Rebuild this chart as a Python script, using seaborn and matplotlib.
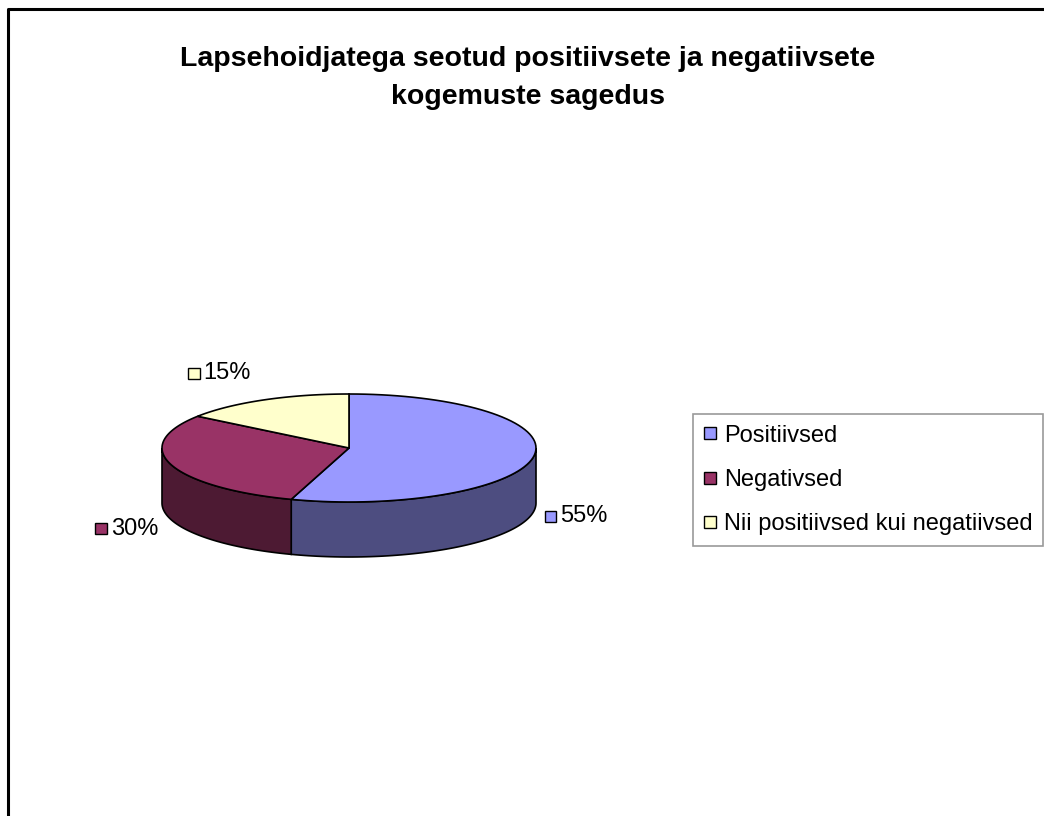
import numpy as np
import matplotlib.pyplot as plt
import seaborn as sns
from matplotlib.patches import Polygon, Rectangle
from matplotlib.lines import Line2D
from matplotlib.offsetbox import AnnotationBbox, DrawingArea, HPacker, TextArea

# data
categories = ["Positiivsed", "Negativsed", "Nii positiivsed kui negatiivsed"]
shares = [55, 30, 15]
value_labels = ["55%", "30%", "15%"]
top_colors = ["#9999FF", "#993366", "#FFFFCC"]
side_colors = ["#4D4D80", "#4D1A33", "#80806A"]

sns.set_theme(style="white")
plt.rcParams["font.family"] = ["Liberation Sans", "DejaVu Sans"]
plt.rcParams["text.color"] = "black"

fig = plt.figure(figsize=(10.44, 8.16), dpi=100)
ax = fig.add_axes([0, 0, 1, 1])
ax.set_xlim(0, 1044)
ax.set_ylim(816, 0)
ax.axis("off")

# pie geometry (pixels)
cx, cy, rx, ry, depth = 349, 448, 187, 54, 55


def arc(t0, t1, dz=0, n=80):
    t = np.linspace(t0, t1, n)
    return np.column_stack([cx + rx * np.cos(t), cy - ry * np.sin(t) + dz])


fracs = np.array(shares) / sum(shares)
starts = np.pi / 2 - 2 * np.pi * np.concatenate([[0], np.cumsum(fracs)[:-1]])
ends = starts - 2 * np.pi * fracs

# side walls (front half only)
for s, e, col in zip(starts, ends, side_colors):
    a, b = max(e, -np.pi), min(s, 0)
    if a >= b:
        continue
    pts = np.vstack([arc(b, a), arc(a, b, depth)])
    ax.add_patch(Polygon(pts, closed=True, facecolor=col, edgecolor="black", lw=1.2, zorder=2))

# top faces
for s, e, col in zip(starts, ends, top_colors):
    pts = np.vstack([[cx, cy], arc(s, e)])
    ax.add_patch(Polygon(pts, closed=True, facecolor=col, edgecolor="black", lw=1.2, zorder=3))

# data labels with colour key squares
for s, e, col, txt in zip(starts, ends, top_colors, value_labels):
    m = (s + e) / 2
    right = np.cos(m) > 0
    x = cx + rx * np.cos(m) + (11 if right else -13)
    y = cy - ry * np.sin(m) * 1.55 + (depth if np.sin(m) < 0 else 0)
    da = DrawingArea(8, 8, 0, 0)
    da.add_artist(Rectangle((0, 0), 8, 8, facecolor=col, edgecolor="black", lw=1))
    ta = TextArea(txt, textprops=dict(fontsize=17, color="black"))
    box = HPacker(children=[da, ta], align="center", pad=0, sep=3)
    ab = AnnotationBbox(box, (x, y), xycoords="data", frameon=False,
                        box_alignment=(0 if right else 1, 0.5), pad=0)
    ax.add_artist(ab)

# legend
handles = [Line2D([], [], marker="s", linestyle="none", markersize=8.5,
                  markerfacecolor=c, markeredgecolor="black", markeredgewidth=1)
           for c in top_colors]
leg = ax.legend(handles, categories, loc="upper left",
                bbox_to_anchor=(693 / 1044, 1 - 414 / 816), bbox_transform=fig.transFigure,
                fontsize=17, frameon=True, fancybox=False, borderaxespad=0,
                handlelength=0.55, handletextpad=0.3, labelspacing=0.95,
                borderpad=0.45, labelcolor="black")
leg.get_frame().set_edgecolor("#808080")
leg.get_frame().set_linewidth(1.2)

# title
ax.text(528, 78, "Lapsehoidjatega seotud positiivsete ja negatiivsete\nkogemuste sagedus",
        ha="center", va="center", fontsize=20.5, fontweight="bold", linespacing=1.55,
        color="black")

# chart area border (top and left)
ax.add_line(Line2D([8, 8, 1044], [816, 9, 9], color="black", lw=2.2, zorder=5))

fig.savefig("out.png", dpi=100)
